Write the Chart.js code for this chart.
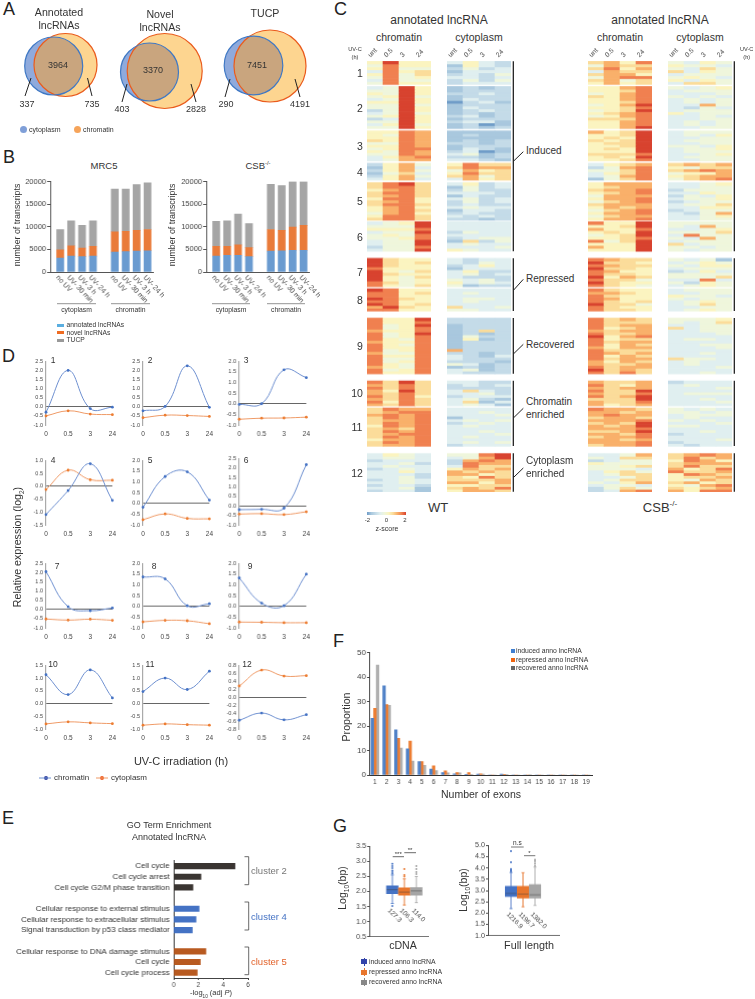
<!DOCTYPE html>
<html>
<head>
<meta charset="utf-8">
<title>lncRNA figure</title>
<script src="https://cdn.jsdelivr.net/npm/chart.js@4"></script>
<style>
  html, body { margin: 0; padding: 0; background: #fff; }
  #page { position: relative; width: 755px; height: 999px; overflow: hidden; font-family: "Liberation Sans", Arial, sans-serif; color: #333; }
  #page canvas { position: absolute; }
  .t { position: absolute; white-space: nowrap; line-height: 1; }
  .t sub, .t sup { font-size: 62%; line-height: 0; }
  #lines { position: absolute; left: 0; top: 0; z-index: 5; }
</style>
</head>
<body>
<div id="page"><svg id="lines" width="755" height="999"></svg></div>
<script>
// panel A
const vennNames = ['Annotated<br>lncRNAs', 'Novel<br>lncRNAs', 'TUCP'];
const vennCytoOnly = [337, 403, 290];
const vennBoth = [3964, 3370, 7451];
const vennChromOnly = [735, 2828, 4191];

// panel B
const stackLabels = ['no UV', 'UV- 30 min', 'UV- 3 h', 'UV- 24 h', 'no UV', 'UV- 30 min', 'UV- 3 h', 'UV- 24 h'];
const stackSlots = [1, 2, 3, 4, 6, 7, 8, 9];
const mrc5Annotated = [3100, 3500, 3400, 3500, 4400, 4500, 4600, 4700];
const mrc5Novel = [1800, 2300, 1900, 2200, 4500, 4500, 4600, 4700];
const mrc5Tucp = [4500, 5500, 5000, 5600, 9400, 9300, 10100, 10300];
const csbAnnotated = [3500, 3700, 3700, 3400, 4600, 4700, 4800, 4800];
const csbNovel = [2200, 2000, 2300, 2000, 4800, 4500, 5100, 5500];
const csbTucp = [5500, 5600, 6800, 5300, 10000, 9900, 10100, 9700];

// panel D
const timeLabels = ['0', '0.5', '3', '24'];
const chromatinLines = [
  [-0.3, 2.0, -0.1, -0.02], [-0.22, 0.02, 2.25, -0.03], [-0.03, 0.0, 1.6, 1.23],
  [-1.1, -0.17, 0.87, -0.55], [-0.18, 1.25, 1.47, 0.15], [-0.2, -0.18, -0.12, 2.17],
  [2.05, 0.15, -0.07, 0.08], [1.37, 1.28, 0.03, 0.12], [1.32, 0.15, 0.03, 1.5],
  [1.13, 0.35, 1.32, 0.22], [0.47, 1.0, 0.55, 1.27], [-0.58, -0.4, -0.57, -0.44]
];
const cytoplasmLines = [
  [-0.5, -0.22, -0.4, -0.43], [-0.6, -0.46, -0.48, -0.53], [-0.73, -0.68, -0.67, -0.63],
  [-0.13, 0.62, 0.25, 0.23], [-0.76, -0.49, -0.7, -0.72], [-0.43, -0.41, -0.46, -0.31],
  [-0.52, -0.58, -0.53, -0.59], [-0.72, -0.65, -0.67, -0.81], [-0.73, -0.74, -0.76, -0.76],
  [-0.8, -0.72, -0.76, -0.79], [-0.85, -0.8, -0.83, -0.85], [0.28, 0.68, 0.53, 0.54]
];
const lineYMin = [-1, -1, -1, -1.5, -1, -1, -1, -1, -1, -1, -1, -0.8];
const lineYMax = [2.5, 2.5, 2, 1, 2, 2.5, 2.5, 2, 2, 1.5, 1.5, 0.8];

// panel E
const goTerms = ['Cell cycle', 'Cell cycle arrest', 'Cell cycle G2/M phase transition', '',
  'Cellular response to external stimulus', 'Cellular response to extracellular stimulus', 'Signal transduction by p53 class mediator', '',
  'Cellular response to DNA damage stimulus', 'Cell cycle', 'Cell cycle process'];
const goValues = [4.95, 2.2, 1.55, null, 2.05, 1.8, 1.5, null, 2.6, 2.15, 1.9];

// panel F
const exonCounts = ['1','2','3','4','5','6','7','8','9','10','11','12','13','14','15','16','17','18','19'];
const exonInduced = [23.2, 36.5, 18.5, 10.7, 5.5, 2.4, 1, 0.5, 0.1, 0.4, 0, 0.4, 0, 0, 0, 0, 0, 0, 0];
const exonRepressed = [27.3, 28.8, 15, 13.9, 5.5, 3.8, 1.7, 1, 1, 0.5, 0, 0.3, 0, 0, 0, 0, 0, 0, 0];
const exonRecovered = [45, 28.5, 11, 5.7, 4, 1.8, 0.9, 0.9, 0.1, 0.4, 0, 0.1, 0, 0.2, 0, 0, 0, 0, 0];

// panel G
const cdnaLabels = ['127.3', '106.3', '114.0'];
const cdnaQ1 = [1.93, 1.88, 1.88];
const cdnaMedian = [2.06, 1.98, 2.02];
const cdnaQ3 = [2.19, 2.12, 2.13];
const cdnaLow = [1.6, 1.55, 1.63];
const cdnaHigh = [2.55, 2.42, 2.5];
const cdnaOutliers = [[2.92, 2.85, 2.78, 2.7, 2.65, 2.6, 1.52], [2.75, 2.55, 2.5], [2.85, 2.75, 2.65, 2.58]];
const fullLabels = ['1216.9', '1196.7', '1382.0'];
const fullQ1 = [2.73, 2.67, 2.67];
const fullMedian = [2.87, 2.84, 2.81];
const fullQ3 = [3.19, 3.19, 3.27];
const fullLow = [2.2, 2.28, 2.34];
const fullHigh = [3.8, 3.79, 4.04];
const fullOutliers = [[4.75, 4.25, 3.95, 3.9, 3.85], [], [4.37, 4.3, 4.2, 4.1]];

// panel C, one string per cluster, one 4 digit group per row (digit = z-score bin, 0 blue .. 9 red)
const heatColumns = ['unt', '0.5', '3', '24'];
const wtChromatin = [
  '5955 4855 5844 3856 5846 4845 3844 4855',
  '3495 4495 5495 4594 3495 5595 4494 4495 2495 3494 4595 2395 4495 3594 4495',
  '5587 5487 5587 6587 4487 5587 4588 5487 4487 3578 3477',
  '2574 1573 2574 1463 2574 3573',
  '6896 6886 5786 6886 6786 5885 6785 6886 5785 5786 4785 5886 6886',
  '3459 4449 5558 3449 4548 4458 3449 3449 2448 3449',
  '9655 9656 9655 8555 9546 9655 9546 9545 8645 8546',
  '9855 8856 8855 9865 8855 9856 7965 8855',
  '8559 8558 8459 8458 7558 8459 8458 8548 7558 8548 8558 8458 7448 8558 8448 8458 8548 7548 8458 8558',
  '8696 7686 8686 7596 7686 8685 7686 8586 7686',
  '6877 6788 7878 6878 6778 6878 5878 6768 6878 6788 6878 5778 6878 6778',
  '3543 3443 2333 3342 3433 2343 3353 3332 3342 2343 3343 2332 3341 2331'
];
const wtCytoplasm = [
  '3532 1532 2423 1333 2324 3323 2424 2333',
  '1212 1222 2232 1222 1322 0231 1222 1322 1232 1212 2312 1222 2331 1201 1212',
  '1111 1211 1111 1212 2212 1222 1321 2301 3412 2212 3321',
  '5866 6877 4756 5866 6746 3756',
  '3523 1423 2422 3332 1322 3423 2423 2322 3433 1332 2322 3232 2212',
  '3333 3333 3333 2433 3333 2344 1624 3433 3334 5433',
  '3233 3243 2353 1333 3522 3423 3222 4342 5343 4122',
  '3333 3433 3333 3443 3433 3333 6334 4433',
  '2222 2222 1222 1222 1262 1212 1422 1512 1222 1222 1222 7222 2212 3213 3222 2221 4312 1212 3412 3222',
  '3322 2323 2222 3632 3342 2333 3421 3613 3431',
  '3333 3343 3334 1333 3434 2343 3433 3333 3343 3334 3433 3333 3434 2333',
  '4489 3479 2787 2877 3866 5767 7676 7756 6586 6667 7757 5566 6768 5776'
];
const csbChromatin = [
  '6758 4766 6857 3766 6775 4788 6746 5756',
  '5578 5568 4578 6578 5578 5568 4579 5568 4569 5678 4578 6668 5578 5578 5579',
  '7569 5569 5659 6569 5669 5569 5659 5559 6668 5659 5568',
  '3567 2478 4468 3568 3478 1468',
  '5777 5677 6778 5678 4777 5778 4678 6777 5767 4678 5778 4677 5778',
  '8559 5569 7558 5659 4569 5568 8469 5559 7559 5559',
  '8766 9665 8766 9665 8755 8665 9576 8664 9655 8654',
  '8655 7765 8655 8755 8656 9664 8655 8665',
  '8676 8666 8677 8567 7677 8667 9578 8566 8677 8576 7577 8666 8767 8576 8677 7576 7667 8677 9676 8686',
  '7667 8657 7677 8669 7668 8679 6669 7668 7567',
  '8776 7767 7877 6776 7778 6769 7679 7778 6679 7768 6778 7767 7778 6778',
  '3347 4366 2344 5444 4456 4443 3564 3466 3346 3466 4357 3443 2464 2378'
];
const csbCytoplasm = [
  '4354 5443 4364 6354 3444 4543 5354 3664',
  '4345 3444 3334 4343 3434 3434 3374 3243 3444 5344 3343 3344 3434 3434 3344',
  '3444 3435 3344 3444 3344 4435 3445 3444 3345 3444 3344',
  '6767 5466 6787 4557 5677 4678',
  '3345 3344 2444 3354 2435 3445 2344 3446 3355 2344 3247 3345 3344',
  '4444 4374 3345 4446 3844 4374 3444 6344 4434 4344',
  '4341 3454 4355 3444 2353 4444 4446 3383 4254 3454',
  '3444 3344 5443 4344 3454 3464 3344 3454',
  '4445 4346 3344 6344 3344 3334 3333 3443 3333 3344 3334 3333 3343 3333 6443 3433 3433 3334 3333 3343',
  '2333 3433 3334 3333 3444 3333 3343 3334 3333',
  '4343 4434 3444 3433 4343 3334 4433 3333 3343 2333 3333 3334 2333 3233',
  '6787 6867 5875 6777 6866 7568 8667 5876 5667 5476 6756 5478 6567 7588'
];

// layout and colours
const FONT = '"Liberation Sans", Arial, sans-serif';
const heatPalette = ['#6f9cc8', '#a9c8de', '#c4dbe8', '#e0eff0', '#eff6dc', '#fbf4c0', '#fbdc9a', '#f9b06a', '#f08050', '#d8432f'];
const clusterTop = [61.3, 86.7, 131, 163.3, 182.7, 221.7, 258.3, 288.7, 318, 380.7, 407.7, 453.3];
const clusterBottom = [84.7, 128.7, 161, 180.3, 220.3, 251.3, 286.7, 311, 373.7, 405.7, 446, 491.7];

Chart.defaults.animation = false;
Chart.defaults.responsive = false;
Chart.defaults.font.family = FONT;
Chart.defaults.color = '#444';
Chart.defaults.plugins.legend.display = false;
Chart.defaults.plugins.tooltip.enabled = false;

// slanted labels under the bars / boxes, chart.js right aligns negative rotations
Chart.register({
  id: 'slant',
  afterDraw(chart, args, opts) {
    if (!opts.labels) return;
    const ctx = chart.ctx;
    ctx.save();
    ctx.font = opts.size + 'px ' + FONT;
    ctx.fillStyle = '#444';
    ctx.textAlign = 'left';
    ctx.textBaseline = 'middle';
    opts.labels.forEach((s, i) => {
      ctx.save();
      ctx.translate(chart.scales.x.getPixelForValue(opts.slots[i]) + opts.dx, chart.scales.y.bottom + opts.dy);
      ctx.rotate(opts.angle * Math.PI / 180);
      ctx.fillText(s, 0, 0);
      ctx.restore();
    });
    ctx.restore();
  }
});

// clips the overlap colour of the venns to the cytoplasm circles
Chart.register({
  id: 'vennClip',
  beforeDatasetDraw(chart, args) {
    const circles = chart.data.datasets[args.index].clipTo;
    if (!circles) return;
    const ctx = chart.ctx;
    ctx.save();
    ctx.beginPath();
    circles.forEach(c => {
      const px = chart.scales.x.getPixelForValue(c.x), py = chart.scales.y.getPixelForValue(c.y);
      ctx.moveTo(px + c.r, py);
      ctx.arc(px, py, c.r, 0, Math.PI * 2);
    });
    ctx.clip();
  },
  afterDatasetDraw(chart, args) {
    if (chart.data.datasets[args.index].clipTo) chart.ctx.restore();
  }
});

const page = document.getElementById('page');
const svg = document.getElementById('lines');

// box = plot area on the page, m = room around it for the axes
function mount(box, m, config) {
  const cv = document.createElement('canvas');
  const w = box.w + m.l + m.r, h = box.h + m.t + m.b;
  cv.width = w;
  cv.height = h;
  cv.style.left = (box.x - m.l) + 'px';
  cv.style.top = (box.y - m.t) + 'px';
  cv.style.width = w + 'px';
  cv.style.height = h + 'px';
  page.appendChild(cv);
  const opt = config.options = config.options || {};
  const sx = opt.scales.x, sy = opt.scales.y;
  const pad = { left: m.l, right: m.r, top: m.t, bottom: m.b };
  if (sy.display !== false) { sy.afterFit = s => { s.width = m.l; }; pad.left = 0; }
  if (sx.display !== false) {
    if (sx.position === 'top') { sx.afterFit = s => { s.height = m.t; }; pad.top = 0; }
    else { sx.afterFit = s => { s.height = m.b; }; pad.bottom = 0; }
  }
  opt.layout = { autoPadding: false, padding: pad };
  return new Chart(cv, config);
}

function txt(x, y, html, size, o) {
  o = o || {};
  const d = document.createElement('div');
  d.className = 't';
  d.innerHTML = html;
  d.style.left = x + 'px';
  d.style.top = y + 'px';
  d.style.fontSize = size + 'px';
  if (o.color) d.style.color = o.color;
  const ax = o.align === 'l' ? '0' : o.align === 'r' ? '-100%' : '-50%';
  d.style.transform = 'translate(' + ax + ',-50%)' + (o.rot ? ' rotate(' + o.rot + 'deg)' : '');
  if (o.lh) d.style.lineHeight = o.lh;
  if (o.center) d.style.textAlign = 'center';
  page.appendChild(d);
}

function seg(x1, y1, x2, y2, color, width) {
  const l = document.createElementNS('http://www.w3.org/2000/svg', 'line');
  l.setAttribute('x1', x1); l.setAttribute('y1', y1);
  l.setAttribute('x2', x2); l.setAttribute('y2', y2);
  l.setAttribute('stroke', color || '#333');
  l.setAttribute('stroke-width', width || 1);
  svg.appendChild(l);
}

function swatch(x, y, w, h, color, round) {
  const d = document.createElement('div');
  d.style.cssText = 'position:absolute;left:' + x + 'px;top:' + y + 'px;width:' + w + 'px;height:' + h + 'px;background:' + color + ';' + (round ? 'border-radius:50%;' : '');
  page.appendChild(d);
  return d;
}

['A', 'B', 'C', 'D', 'E', 'F', 'G'].forEach((s, i) => {
  const at = [[3, 9], [3, 157], [334, 9], [2, 356], [2, 818], [333, 641], [333, 826]][i];
  txt(at[0], at[1], s, 18, { align: 'l', color: '#222' });
});

/* ---------- A ---------- */
const cytoCircles = [{ x: 53.7, y: 66, r: 29 }, { x: 149.5, y: 72, r: 29 }, { x: 253.5, y: 65.5, r: 29.3 }];
const chromCircles = [{ x: 65.5, y: 65, r: 31.5 }, { x: 164.7, y: 71, r: 37.5 }, { x: 270, y: 66, r: 36 }];
mount({ x: 0, y: 0, w: 320, h: 115 }, { l: 0, r: 0, t: 0, b: 0 }, {
  type: 'bubble',
  data: {
    // first dataset ends up on top
    datasets: [
      { data: cytoCircles, backgroundColor: 'transparent', borderColor: '#3f78c4', borderWidth: 1.2, radius: 0, clip: false },
      { data: chromCircles, backgroundColor: 'transparent', borderColor: '#ea5b1c', borderWidth: 1.2, radius: 0, clip: false },
      { data: chromCircles, backgroundColor: '#c9a57e', borderWidth: 0, radius: 0, clipTo: cytoCircles },
      { data: chromCircles, backgroundColor: '#fdd590', borderWidth: 0, radius: 0 },
      { data: cytoCircles, backgroundColor: '#8faadc', borderWidth: 0, radius: 0 }
    ]
  },
  options: { scales: {
    x: { type: 'linear', display: false, min: 0, max: 320 },
    y: { type: 'linear', display: false, min: 0, max: 115, reverse: true }
  } }
});
[[59, 19], [160, 20.5], [265, 14]].forEach((p, i) => txt(p[0], p[1], vennNames[i], 10.6, { lh: '13.4px', center: true }));
[[58, 65], [153, 70], [257, 65]].forEach((p, i) => txt(p[0], p[1], vennBoth[i], 9));
[[27, 104], [122, 109], [226, 104]].forEach((p, i) => txt(p[0], p[1], vennCytoOnly[i], 9));
[[92, 104], [196, 109], [300, 104]].forEach((p, i) => txt(p[0], p[1], vennChromOnly[i], 9));
[[31, 78, 25, 96], [87.5, 78, 92, 96], [127, 84, 122, 102], [191, 84, 196, 102], [230, 79, 225, 97], [295, 79, 300, 97]]
  .forEach(p => seg(p[0], p[1], p[2], p[3], '#222', 1));
swatch(20, 125.5, 7, 7, '#7f9fd8', true);
txt(29, 129, 'cytoplasm', 7, { align: 'l' });
swatch(74, 125.5, 7, 7, '#f6a45a', true);
txt(83, 129, 'chromatin', 7, { align: 'l' });

/* ---------- B ---------- */
function stackChart(x, a, n, t) {
  const points = v => v.map((y, i) => ({ x: stackSlots[i], y: y }));
  const set = (v, c) => ({ data: points(v), backgroundColor: c, barThickness: 7, stack: 's' });
  mount({ x: x, y: 179.7, w: 102.7, h: 92.3 }, { l: 30, r: 22, t: 4, b: 50 }, {
    type: 'bar',
    data: { datasets: [set(a, '#6a9bd0'), set(n, '#e97b3a'), set(t, '#a5a5a5')] },
    options: {
      scales: {
        x: { type: 'linear', offset: false, min: 0.08, max: 9.49, stacked: true, grid: { display: false, drawTicks: false }, ticks: { display: false }, border: { color: '#555' } },
        y: { min: 0, max: 20000, stacked: true, grid: { drawOnChartArea: false, tickLength: 3, color: '#555' }, border: { color: '#555' },
             ticks: { stepSize: 5000, autoSkip: false, font: { size: 7.5 }, padding: 1, callback: v => String(v) } }
      },
      plugins: { slant: { labels: stackLabels, slots: stackSlots, size: 7, angle: 47, dx: -3, dy: 4.5 } }
    }
  });
}
stackChart(50, mrc5Annotated, mrc5Novel, mrc5Tucp);
stackChart(206, csbAnnotated, csbNovel, csbTucp);
txt(104, 165.7, 'MRC5', 9.5);
txt(258, 165.7, 'CSB<sup>-/-</sup>', 9.5);
txt(16.7, 225, 'number of transcripts', 8.8, { rot: -90 });
txt(172, 225, 'number of transcripts', 8.8, { rot: -90 });
[[57, 96, 'cytoplasm'], [111, 150, 'chromatin'], [212, 250, 'cytoplasm'], [267, 305, 'chromatin']].forEach(g => {
  seg(g[0], 303.7, g[1], 303.7, '#777', 0.8);
  txt((g[0] + g[1]) / 2, 310, g[2], 6.8);
});
[['annotated lncRNAs', '#5aaee0', 325], ['novel lncRNAs', '#ef6c22', 332.7], ['TUCP', '#999', 340]].forEach(r => {
  swatch(57, r[2] - 1.5, 7, 3, r[1]);
  txt(66.5, r[2], r[0], 6.7, { align: 'l' });
});

/* ---------- D ---------- */
const lineX = [45.7, 142.7, 239];
const lineRows = [[358.7, 425], [458, 524.5], [561, 627.5], [662.7, 729.3]];
chromatinLines.forEach((vals, i) => {
  const row = lineRows[Math.floor(i / 3)];
  let top = row[0], bottom = row[1];
  if (i === 5) top = 456;
  const lineSet = (v, c, d) => ({ data: v, borderColor: c, backgroundColor: d, borderWidth: 1, tension: 0.42, pointRadius: 1.4, pointBorderWidth: 0, clip: false });
  mount({ x: lineX[i % 3], y: top, w: 67.6, h: bottom - top }, { l: 24, r: 8, t: 4, b: 14 }, {
    type: 'line',
    data: { labels: timeLabels, datasets: [lineSet(vals, '#6d8fd0', '#4472c4'), lineSet(cytoplasmLines[i], '#ef9a66', '#ed7d31')] },
    options: { scales: {
      x: { grid: { display: false, drawTicks: false }, border: { display: false }, ticks: { font: { size: 6.5 }, padding: 5, maxRotation: 0, autoSkip: false } },
      y: { min: lineYMin[i], max: lineYMax[i], border: { color: '#aaa', width: 1.2 },
           grid: { drawTicks: false, color: c => Math.abs(c.tick.value) < 1e-6 ? '#666' : 'transparent' },
           ticks: { stepSize: i === 11 ? 0.2 : 0.5, autoSkip: false, font: { size: 5.5 }, padding: 3, callback: v => v.toFixed(1) } }
    } }
  });
});
[[53, 360], [150, 360], [246, 360], [53, 460], [150, 460], [246, 460], [57, 566], [154, 566], [250, 566], [53, 664], [150, 664], [247, 664]]
  .forEach((p, i) => txt(p[0], p[1], i + 1, 8.5));
txt(17, 547, 'Relative expression (log<sub>2</sub>)', 10.6, { rot: -90 });
txt(181, 761, 'UV-C irradiation (h)', 11);
seg(39, 778, 51, 778, '#6d8fd0', 1);
swatch(43.5, 776, 4, 4, '#2f3f9f', true);
txt(54, 778, 'chromatin', 8, { align: 'l' });
seg(96, 778, 108, 778, '#ef9a66', 1);
swatch(100, 776, 4, 4, '#ef5a1e', true);
txt(111, 778, 'cytoplasm', 8, { align: 'l' });

/* ---------- E ---------- */
const goColors = goValues.map((v, i) => i < 3 ? '#3a3532' : i < 7 ? '#4472c4' : '#b85a20');
mount({ x: 173.3, y: 853.7, w: 74.7, h: 124.4 }, { l: 172, r: 6, t: 2, b: 12 }, {
  type: 'bar',
  data: { labels: goTerms, datasets: [{ data: goValues, backgroundColor: goColors, barThickness: 5.5 }] },
  options: {
    indexAxis: 'y',
    scales: {
      x: { type: 'linear', min: 0, max: 6, grid: { drawOnChartArea: false, tickLength: 2, color: '#444' }, border: { color: '#444' },
           ticks: { stepSize: 2, font: { size: 6.5 }, padding: 1, maxRotation: 0 } },
      y: { type: 'category', grid: { display: false, drawTicks: false }, border: { color: '#333', width: 1 },
           ticks: { font: { size: 8 }, padding: 4, autoSkip: false, color: '#333' } }
    }
  }
});
txt(169, 825, 'GO Term Enrichment', 9);
txt(169, 836.7, 'Annotated lncRNA', 9);
txt(211, 993, '-log<sub>10</sub> (adj <i>P</i>)', 7.5);
[[856.7, 884.7, 'cluster 2', '#777', 871], [902, 930, 'cluster 4', '#4472c4', 916.7], [947, 974.7, 'cluster 5', '#e2622a', 961.7]].forEach(b => {
  seg(244.5, b[0], 248.7, b[0], '#444', 0.8);
  seg(248.7, b[0], 248.7, b[1], '#444', 0.8);
  seg(244.5, b[1], 248.7, b[1], '#444', 0.8);
  txt(251, b[4], b[2], 9.5, { align: 'l', color: b[3] });
});

/* ---------- F ---------- */
const exonSet = (v, c) => ({ data: v, backgroundColor: c, barThickness: 2.6 });
mount({ x: 369.1, y: 651.7, w: 222.6, h: 123.6 }, { l: 24, r: 6, t: 5, b: 13 }, {
  type: 'bar',
  data: { labels: exonCounts, datasets: [exonSet(exonInduced, '#4f81c7'), exonSet(exonRepressed, '#ed7d31'), exonSet(exonRecovered, '#b0b0b0')] },
  options: { scales: {
    x: { grid: { display: false, drawTicks: false }, border: { color: '#333' }, ticks: { font: { size: 6.5 }, padding: 3, maxRotation: 0, autoSkip: false } },
    y: { min: 0, max: 50, grid: { drawOnChartArea: false, tickLength: 2, color: '#444' }, border: { color: '#444' }, ticks: { stepSize: 10, autoSkip: false, font: { size: 8 }, padding: 1 } }
  } }
});
txt(345.7, 717, 'Proportion', 10.6, { rot: -90 });
txt(481, 794, 'Number of exons', 10.5);
[['induced anno lncRNA', '#3f7fd0', 651.3], ['repressed anno lncRNA', '#f0640f', 659.7], ['recovered anno lncRNA', '#666', 667.7]].forEach(r => {
  swatch(511, r[2] - 2, 4, 4, r[1]);
  txt(516, r[2], r[0], 6.8, { align: 'l' });
});

/* ---------- G ---------- */
const boxColors = ['#4472c4', '#e8762d', '#a5a5a5'];
const boxSlots = [1, 2, 3];
function boxChart(box, xRange, yRange, step, q1, med, q3, lo, hi, out, labels, labelDy) {
  const outPts = [];
  out.forEach((list, i) => list.forEach(v => outPts.push({ x: boxSlots[i], y: v, c: boxColors[i] })));
  const at = v => v.map((y, i) => ({ x: boxSlots[i], y: y }));
  const span = (a, b) => a.map((y, i) => ({ x: boxSlots[i], y: [y, b[i]] }));
  mount(box, { l: 20, r: 4, t: 4, b: 4 }, {
    type: 'bar',
    data: { datasets: [
      { type: 'scatter', data: outPts, pointRadius: 1, backgroundColor: outPts.map(p => p.c), borderWidth: 0 },
      { type: 'scatter', data: at(med), pointStyle: 'line', pointRadius: 5.5, borderColor: 'rgba(60,60,60,.55)', borderWidth: 0.8 },
      { data: span(q1, q3), backgroundColor: boxColors, barThickness: 11.5, grouped: false },
      { type: 'scatter', data: at(lo).concat(at(hi)), pointStyle: 'line', pointRadius: 1.6, borderColor: boxColors.concat(boxColors), borderWidth: 0.7 },
      { data: span(lo, hi), backgroundColor: ['#9db4e0', '#f0ae84', '#cfcfcf'], barThickness: 1, grouped: false }
    ] },
    options: {
      scales: {
        x: { type: 'linear', offset: false, min: xRange[0], max: xRange[1], grid: { display: false, drawTicks: false }, ticks: { display: false }, border: { color: '#777' } },
        y: { min: yRange[0], max: yRange[1], grid: { drawOnChartArea: false, tickLength: 2, color: '#555' }, border: { color: '#555' },
             ticks: { stepSize: step, autoSkip: false, font: { size: 7.2 }, padding: 1, callback: v => v.toFixed(1) } }
      },
      plugins: { slant: { labels: labels, slots: boxSlots, size: 6.5, angle: 45, dx: -3.5, dy: labelDy } }
    }
  });
}
boxChart({ x: 369, y: 844.7, w: 58.7, h: 93 }, [-0.92, 3.97], [0.5, 3.5], 0.5, cdnaQ1, cdnaMedian, cdnaQ3, cdnaLow, cdnaHigh, cdnaOutliers, cdnaLabels, -27);
boxChart({ x: 488.3, y: 844.3, w: 71, h: 92.7 }, [-0.92, 5], [1, 5], 0.5, fullQ1, fullMedian, fullQ3, fullLow, fullHigh, fullOutliers, fullLabels, -22);
txt(342.3, 888, 'Log<sub>10</sub>(bp)', 10.5, { rot: -90 });
txt(463.3, 890, 'Log<sub>10</sub>(bp)', 10.5, { rot: -90 });
txt(403, 945, 'cDNA', 10.6);
txt(529, 945, 'Full length', 10.8);
seg(392.7, 856.7, 404, 856.7, '#444', 0.8);
txt(398.3, 854, '***', 6);
seg(404.3, 852.7, 416, 852.7, '#444', 0.8);
txt(410, 850, '**', 6);
seg(511, 847, 523.7, 847, '#777', 1);
txt(517.3, 842.5, 'n.s', 6.5);
seg(524, 855.7, 535.3, 855.7, '#777', 1);
txt(529.5, 853, '*', 6);
[['induced anno lncRNA', '#3344aa', 961.7], ['repressed anno lncRNA', '#e8762d', 972], ['recovered anno lncRNA', '#888', 982]].forEach(r => {
  swatch(361, r[2] - 2.5, 6, 5, r[1]);
  swatch(363.6, r[2] - 4, 0.8, 8, r[1]);
  txt(369, r[2], r[0], 6.9, { align: 'l' });
});

/* ---------- C ---------- */
function heat(x, clusters) {
  const datasets = [];
  clusters.forEach((str, k) => {
    const rows = str.split(' ');
    const h = (clusterBottom[k] - clusterTop[k]) / rows.length;
    rows.forEach((row, r) => {
      const y0 = clusterTop[k] + r * h;
      datasets.push({
        data: heatColumns.map(() => [y0, y0 + h]),
        backgroundColor: row.split('').map(d => heatPalette[+d]),
        barPercentage: 1, categoryPercentage: 1, grouped: false, borderWidth: 0
      });
    });
  });
  mount({ x: x, y: 61.3, w: 64.3, h: 430.4 }, { l: 0, r: 8, t: 18, b: 0 }, {
    type: 'bar',
    data: { labels: heatColumns, datasets: datasets },
    options: { scales: {
      x: { position: 'top', grid: { display: false, drawTicks: false }, border: { display: false },
           ticks: { font: { size: 6.8 }, padding: 2, minRotation: 45, maxRotation: 45, autoSkip: false } },
      y: { display: false, min: 61.3, max: 491.7, reverse: true }
    } }
  });
}
heat(367, wtChromatin);
heat(446.5, wtCytoplasm);
heat(588, csbChromatin);
heat(668, csbCytoplasm);

txt(439, 20, 'annotated lncRNA', 12);
txt(399, 37, 'chromatin', 10.5);
txt(479, 37, 'cytoplasm', 10.5);
txt(660, 20, 'annotated lncRNA', 12);
txt(620, 37, 'chromatin', 10.5);
txt(700, 37, 'cytoplasm', 10.5);
txt(355, 53, 'UV-C<br>(h)', 5.6, { lh: '8px', center: true });
txt(746.7, 53, 'UV-C<br>(h)', 5.6, { lh: '8px', center: true });
[73, 108, 146, 172, 201, 237, 272, 300, 346, 393, 427, 473].forEach((y, i) => txt(i < 9 ? 360 : 357, y, i + 1, 10.5));
[[61.3, 251.3], [258.3, 311], [318, 373.7], [380.7, 446], [453.3, 491.7]].forEach(s => {
  seg(513.3, s[0], 513.3, s[1], '#111', 1.2);
  seg(734.3, s[0], 734.3, s[1], '#111', 1.2);
});
[[161, 151.7], [290, 279.3], [353.7, 344.3], [417.7, 408.3], [477.3, 468]].forEach(p => seg(513.7, p[0], 523.3, p[1], '#222', 1));
txt(526, 151, 'Induced', 10, { align: 'l' });
txt(526, 279, 'Repressed', 10, { align: 'l' });
txt(526, 345, 'Recovered', 10, { align: 'l' });
txt(526, 401.7, 'Chromatin', 10, { align: 'l' });
txt(526, 415, 'enriched', 10, { align: 'l' });
txt(526, 461, 'Cytoplasm', 10, { align: 'l' });
txt(526, 474, 'enriched', 10, { align: 'l' });
txt(438, 507, 'WT', 13);
txt(660, 507, 'CSB<sup>-/-</sup>', 13);
const bar = swatch(367, 512, 39, 3, '#000');
bar.style.background = 'linear-gradient(to right,' + heatPalette.join(',') + ')';
txt(367.5, 520, '-2', 6);
txt(386.5, 520, '0', 6);
txt(405, 520, '2', 6);
txt(387, 528, 'z-score', 7);
</script>
</body>
</html>
